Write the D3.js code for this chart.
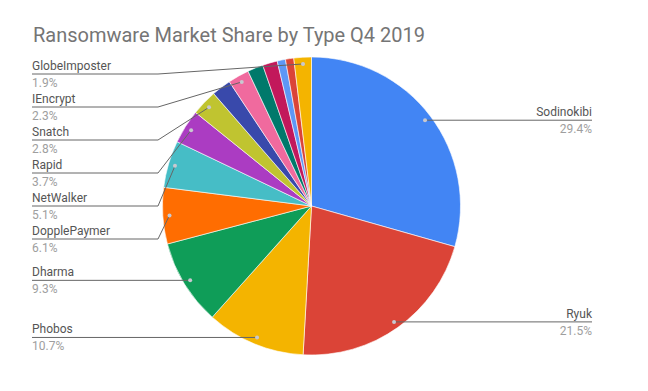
<!DOCTYPE html>
<html><head><meta charset="utf-8">
<script src="https://cdn.jsdelivr.net/npm/d3@7"></script>
<style>
html,body{margin:0;padding:0;background:#fff;}
svg{display:block;font-family:Roboto,"Noto Sans",sans-serif;}
</style></head>
<body>
<svg id="chart" width="648" height="391"></svg>
<script>
const title = "Ransomware Market Share by Type Q4 2019";
const categories = ["Sodinokibi","Ryuk","Phobos","Dharma","DopplePaymer","NetWalker","Rapid","Snatch","Other A","IEncrypt","Other B","Other C","Other D","Other E","GlobeImposter"];
const shares = [29.4,21.5,10.7,9.3,6.1,5.1,3.7,2.8,2.1,2.3,1.7,1.6,0.9,0.9,1.9];
const labelled = [true,true,true,true,true,true,true,true,false,true,false,false,false,false,true];
const colors = ["#4285F4","#DB4437","#F4B400","#0F9D58","#FF6D01","#46BDC6","#AB3CC2","#C0C430","#3949AB","#F06A9E","#00796B","#C2185B","#5E97F6","#DB4437","#F4B400"];

const data = categories.map((c,i)=>({name:c,value:shares[i],color:colors[i],show:labelled[i]}));

const svg = d3.select("#chart");
const cx = 311.5, cy = 206, R = 149;

svg.append("text").attr("x",33).attr("y",42).attr("fill","#757575")
  .attr("font-size",20).attr("textLength",392).attr("lengthAdjust","spacingAndGlyphs").text(title);

const pie = d3.pie().sort(null).value(d=>d.value);
const arcs = pie(data);
const arc = d3.arc().innerRadius(0).outerRadius(R);
const g = svg.append("g").attr("transform",`translate(${cx},${cy})`);
g.selectAll("path").data(arcs).join("path")
  .attr("d",arc).attr("fill",d=>d.data.color)
  .attr("stroke","#fff").attr("stroke-width",0.6);

// label anchors
const anchorR = R*0.955;
const lab = arcs.filter(a=>a.data.show).map(a=>{
  const m=(a.startAngle+a.endAngle)/2;
  return {a, x: cx+anchorR*Math.sin(m), y: cy-anchorR*Math.cos(m), right: m<Math.PI};
});
const rightL = lab.filter(l=>l.right).sort((p,q)=>p.y-q.y);
const leftL = lab.filter(l=>!l.right).sort((p,q)=>p.y-q.y);
const gap = 33, minY = cy - R + 17;
let prev = -Infinity;
rightL.forEach(l=>{ l.ly = Math.max(l.y, minY, prev+gap); prev=l.ly; });
prev = -Infinity;
leftL.forEach(l=>{ l.ly = Math.max(l.y, minY, prev+gap); prev=l.ly; });

const fmt = v=>d3.format(".1f")(v)+"%";
const lg = svg.append("g");
const rightX = 592, leftX = 32, elbowL = 158;
rightL.forEach(l=>{
  lg.append("path").attr("d",`M${l.x},${l.y} L${rightX},${l.ly}`).attr("stroke","#666").attr("fill","none").attr("stroke-width",1);
  lg.append("circle").attr("cx",l.x).attr("cy",l.y).attr("r",2).attr("fill","#c8c8d0");
  lg.append("text").attr("x",rightX).attr("y",l.ly-4).attr("text-anchor","end").attr("font-size",12).attr("fill","#555").text(l.a.data.name);
  lg.append("text").attr("x",rightX).attr("y",l.ly+13).attr("text-anchor","end").attr("font-size",12).attr("fill","#9e9e9e").text(fmt(l.a.data.value));
});
leftL.forEach(l=>{
  const ex = Math.min(elbowL, l.x);
  const p = Math.abs(l.ly-l.y)<0.5 ? `M${leftX},${l.ly} L${l.x},${l.y}` : `M${leftX},${l.ly} L${ex},${l.ly} L${l.x},${l.y}`;
  lg.append("path").attr("d",p).attr("stroke","#666").attr("fill","none").attr("stroke-width",1);
  lg.append("circle").attr("cx",l.x).attr("cy",l.y).attr("r",2).attr("fill","#c8c8d0");
  lg.append("text").attr("x",leftX).attr("y",l.ly-4).attr("font-size",12).attr("fill","#555").text(l.a.data.name);
  lg.append("text").attr("x",leftX).attr("y",l.ly+13).attr("font-size",12).attr("fill","#9e9e9e").text(fmt(l.a.data.value));
});
</script>
</body></html>
